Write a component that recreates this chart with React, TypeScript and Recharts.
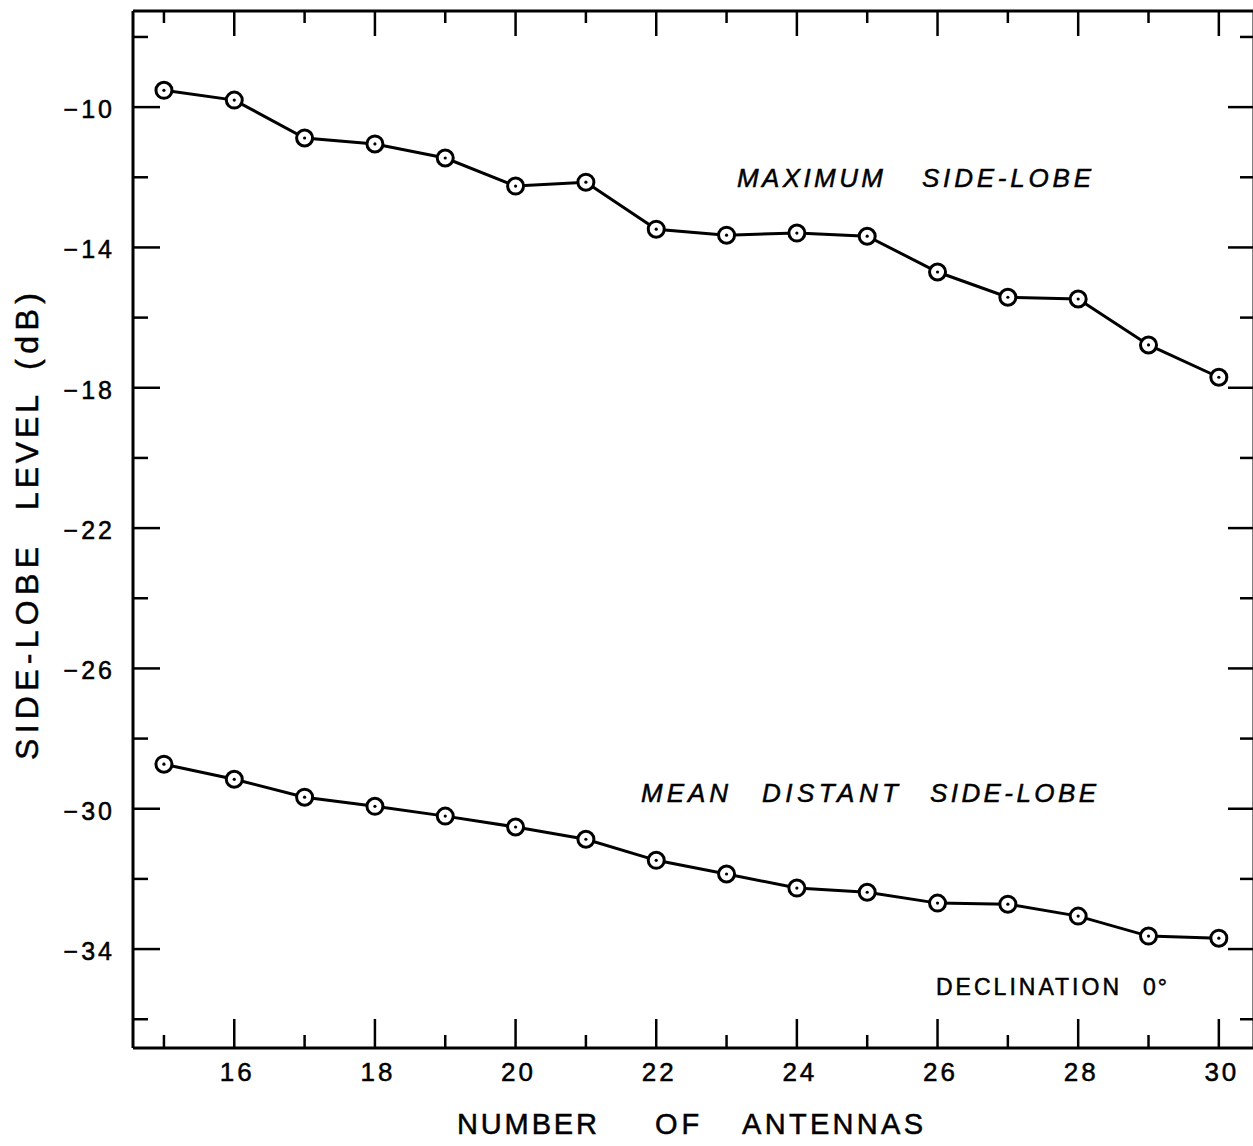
import React from 'react';
import { LineChart, Line, XAxis, YAxis } from 'recharts';

const antennas = [15, 16, 17, 18, 19, 20, 21, 22, 23, 24, 25, 26, 27, 28, 29, 30];
const maxSideLobe = [-9.52, -9.8, -10.88, -11.05, -11.45, -12.25, -12.14, -13.48, -13.65, -13.59, -13.68, -14.7, -15.42, -15.47, -16.78, -17.7];
const meanDistantSideLobe = [-28.73, -29.16, -29.67, -29.93, -30.21, -30.52, -30.87, -31.47, -31.86, -32.26, -32.38, -32.69, -32.72, -33.06, -33.63, -33.69];
const xTicks = [15, 16, 17, 18, 19, 20, 21, 22, 23, 24, 25, 26, 27, 28, 29, 30];
const yTicks = [-8, -10, -12, -14, -16, -18, -20, -22, -24, -26, -28, -30, -32, -34, -36];

const data = antennas.map((n, i) => ({ n, max: maxSideLobe[i], mean: meanDistantSideLobe[i] }));

const FONT = '"Liberation Sans", Arial, sans-serif';
const INK = '#000';

const isMajorX = (v: number) => v % 2 === 0;
const isMajorY = (v: number) => (v + 10) % 4 === 0;
const fmtY = (v: number) => `\u2212${Math.abs(v)}`;

const BottomTick = ({ x, y, payload }: any) => {
  const major = isMajorX(payload.value);
  return (
    <g>
      <line x1={x} x2={x} y1={y} y2={y - (major ? 29 : 13)} stroke={INK} strokeWidth={2.5} />
      {major && (
        <text x={x + 3} y={y + 33} textAnchor="middle" fontSize={26} fontFamily={FONT} letterSpacing={3} fill={INK} stroke={INK} strokeWidth={0.5}>
          {payload.value}
        </text>
      )}
    </g>
  );
};

const TopTick = ({ x, y, payload }: any) => {
  const major = isMajorX(payload.value);
  return <line x1={x} x2={x} y1={y} y2={y + (major ? 25 : 12)} stroke={INK} strokeWidth={2.5} />;
};

const LeftTick = ({ x, y, payload }: any) => {
  const major = isMajorY(payload.value);
  return (
    <g>
      <line x1={x} x2={x + (major ? 27 : 15)} y1={y} y2={y} stroke={INK} strokeWidth={2.5} />
      {major && (
        <text x={x - 18} y={y + 2} textAnchor="end" dominantBaseline="central" fontSize={25} fontFamily={FONT} letterSpacing={3} fill={INK} stroke={INK} strokeWidth={0.5}>
          {fmtY(payload.value)}
        </text>
      )}
    </g>
  );
};

const RightTick = ({ x, y, payload }: any) => {
  const major = isMajorY(payload.value);
  return <line x1={x} x2={x - (major ? 26 : 14)} y1={y} y2={y} stroke={INK} strokeWidth={2.5} />;
};

const Marker = ({ cx, cy }: any) => {
  if (cx == null || cy == null) return null;
  return (
    <g>
      <circle cx={cx} cy={cy} r={8} fill="#fff" stroke={INK} strokeWidth={3} />
      <circle cx={cx} cy={cy} r={1.6} fill={INK} />
    </g>
  );
};

// one word of lettering, stretched to the span it takes in the reference
const Word = ({ x, y, w, size, italic, children }: any) => (
  <text
    x={x}
    y={y}
    fontSize={size}
    fontStyle={italic ? 'italic' : 'normal'}
    fontFamily={FONT}
    textLength={w}
    lengthAdjust="spacing"
    fill={INK}
    stroke={INK}
    strokeWidth={0.5}
  >
    {children}
  </text>
);

export default function App() {
  return (
    <div style={{ position: 'absolute', left: 0, top: 0, width: 1253, height: 1146, overflow: 'hidden', background: '#fff' }}>
      <LineChart width={1258} height={1146} data={data} margin={{ top: 10, left: 132, right: 3, bottom: 97 }}>
        <XAxis
          xAxisId="bottom"
          dataKey="n"
          type="number"
          domain={[14.56, 30.5]}
          allowDataOverflow
          ticks={xTicks}
          interval={0}
          height={1}
          tickSize={0}
          tickMargin={0}
          tickLine={false}
          axisLine={{ stroke: INK, strokeWidth: 3 }}
          tick={<BottomTick />}
        />
        <XAxis
          xAxisId="top"
          orientation="top"
          dataKey="n"
          type="number"
          domain={[14.56, 30.5]}
          allowDataOverflow
          ticks={xTicks}
          interval={0}
          height={1}
          tickSize={0}
          tickMargin={0}
          tickLine={false}
          axisLine={{ stroke: INK, strokeWidth: 3 }}
          tick={<TopTick />}
        />
        <YAxis
          yAxisId="left"
          type="number"
          domain={[-36.82, -7.26]}
          allowDataOverflow
          ticks={yTicks}
          interval={0}
          width={1}
          tickSize={0}
          tickMargin={0}
          tickLine={false}
          axisLine={{ stroke: INK, strokeWidth: 3 }}
          tick={<LeftTick />}
        />
        <YAxis
          yAxisId="right"
          orientation="right"
          type="number"
          domain={[-36.82, -7.26]}
          allowDataOverflow
          ticks={yTicks}
          interval={0}
          width={1}
          tickSize={0}
          tickMargin={0}
          tickLine={false}
          axisLine={{ stroke: INK, strokeWidth: 3 }}
          tick={<RightTick />}
        />
        <Line xAxisId="bottom" yAxisId="left" dataKey="max" stroke={INK} strokeWidth={3} dot={<Marker />} isAnimationActive={false} />
        <Line xAxisId="bottom" yAxisId="left" dataKey="mean" stroke={INK} strokeWidth={3} dot={<Marker />} isAnimationActive={false} />
      </LineChart>
      <svg width={1253} height={1146} style={{ position: 'absolute', left: 0, top: 0, pointerEvents: 'none' }}>
        <Word x={737} y={187} w={146} size={26} italic>MAXIMUM</Word>
        <Word x={922} y={187} w={169} size={26} italic>SIDE-LOBE</Word>

        <Word x={641} y={802} w={87} size={26} italic>MEAN</Word>
        <Word x={762} y={802} w={136} size={26} italic>DISTANT</Word>
        <Word x={930} y={802} w={166} size={26} italic>SIDE-LOBE</Word>

        <Word x={936} y={995} w={183} size={23}>DECLINATION</Word>
        <text x={1143} y={995} fontSize={23} fontFamily={FONT} letterSpacing={2} fill={INK} stroke={INK} strokeWidth={0.5}>
          0°
        </text>

        <Word x={457} y={1134} w={140} size={29}>NUMBER</Word>
        <text x={655} y={1134} fontSize={29} fontFamily={FONT} letterSpacing={4} fill={INK} stroke={INK} strokeWidth={0.5}>
          OF
        </text>
        <Word x={742} y={1134} w={181} size={29}>ANTENNAS</Word>

        <g transform="translate(38 0) rotate(-90)">
          <Word x={-760} y={0} w={213} size={32}>SIDE-LOBE</Word>
          <Word x={-510} y={0} w={115} size={32}>LEVEL</Word>
          <Word x={-370} y={0} w={77} size={32}>(dB)</Word>
        </g>
      </svg>
    </div>
  );
}
